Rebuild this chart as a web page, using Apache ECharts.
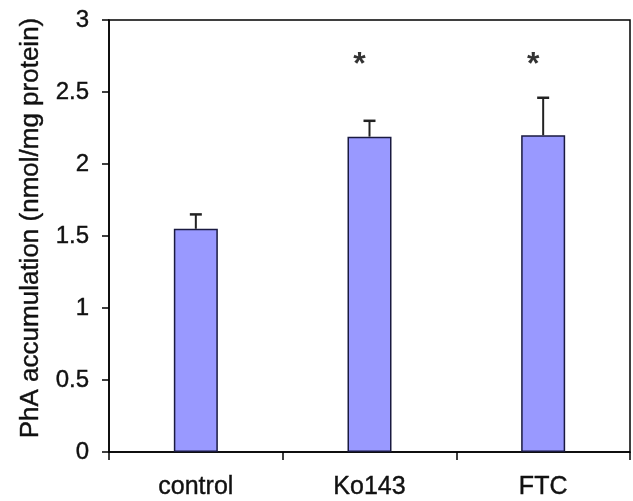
<!DOCTYPE html>
<html><head><meta charset="utf-8">
<script src="https://cdn.jsdelivr.net/npm/echarts@6/dist/echarts.min.js"></script>
<style>html,body{margin:0;padding:0;background:#fff}#c{width:633px;height:501px}</style>
</head><body><div id="c"></div>
<script>
var categories = ['control', 'Ko143', 'FTC'];
var means = [1.55, 2.19, 2.20];
var errorTops = [1.65, 2.30, 2.46];
var starLevel = [null, 2.71, 2.71];
var yLabel = 'PhA accumulation (nmol/mg protein)';

var chart = echarts.init(document.getElementById('c'));
var font = 'Liberation Sans, Arial, sans-serif';
var txt = {color: '#111', fontFamily: font, textBorderColor: '#111', textBorderWidth: 0.4};
chart.setOption({
  animation: false,
  grid: {left: 109, right: 3, top: 20, bottom: 49, show: true, borderColor: '#000', borderWidth: 1.5, backgroundColor: 'transparent'},
  graphic: [{
    type: 'text', x: 31, y: 228, rotation: Math.PI / 2,
    style: Object.assign({text: yLabel, fontSize: 26, align: 'center', verticalAlign: 'middle', fill: '#111', stroke: '#111', lineWidth: 0.4, font: '26px Liberation Sans, Arial, sans-serif'}, {})
  }],
  xAxis: {
    type: 'category', data: categories, boundaryGap: true,
    axisLine: {lineStyle: {color: '#000', width: 1.5}},
    axisTick: {show: true, alignWithLabel: false, length: 8, lineStyle: {color: '#000', width: 1.5}},
    axisLabel: Object.assign({fontSize: 25, margin: 23}, txt)
  },
  yAxis: {
    type: 'value', min: 0, max: 3, interval: 0.5,
    axisLine: {show: true, lineStyle: {color: '#000', width: 1.5}},
    axisTick: {show: true, length: 7, lineStyle: {color: '#000', width: 1.5}},
    splitLine: {show: false},
    axisLabel: Object.assign({fontSize: 24, margin: 20}, txt)
  },
  series: [
    {
      type: 'bar', data: means, barWidth: 44,
      itemStyle: {color: '#9999ff', borderColor: '#1a1a40', borderWidth: 1.5}
    },
    {
      type: 'custom',
      data: categories.map(function (c, i) { return [i, means[i], errorTops[i]]; }),
      renderItem: function (params, api) {
        var p0 = api.coord([api.value(0), api.value(1)]);
        var p1 = api.coord([api.value(0), api.value(2)]);
        var half = 6;
        return {type: 'group', children: [
          {type: 'line', shape: {x1: p0[0], y1: p0[1], x2: p1[0], y2: p1[1]}, style: {stroke: '#222', lineWidth: 2}},
          {type: 'line', shape: {x1: p1[0] - half, y1: p1[1], x2: p1[0] + half, y2: p1[1]}, style: {stroke: '#222', lineWidth: 2.5}}
        ]};
      },
      z: 5
    },
    {
      type: 'scatter', data: starLevel, symbolSize: 0,
      label: {show: true, position: 'inside', formatter: '*', color: '#000', fontFamily: font, fontSize: 32, fontWeight: 'bold', offset: [-10, 3]}
    }
  ]
});
</script></body></html>
